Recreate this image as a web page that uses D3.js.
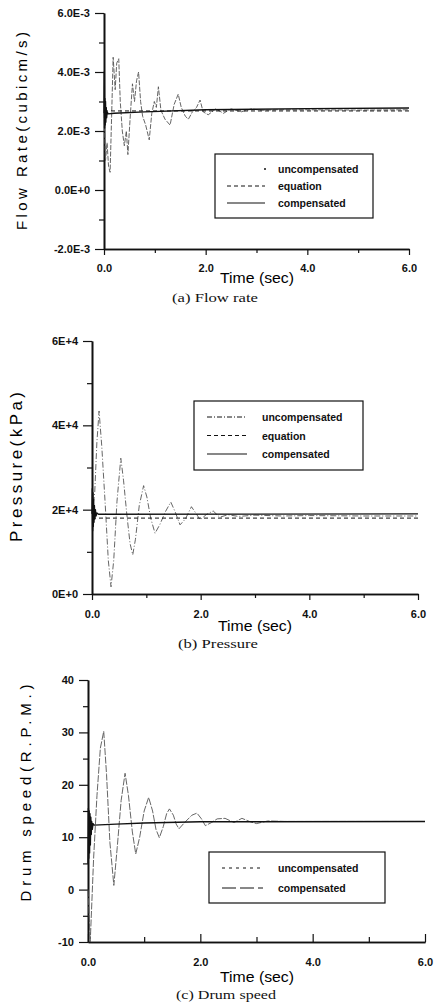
<!DOCTYPE html>
<html><head><meta charset="utf-8">
<script src="https://cdn.jsdelivr.net/npm/d3@7"></script>
<style>
html,body{margin:0;padding:0;background:#fff;}
svg{display:block;}
</style></head>
<body>
<svg id="c" width="440" height="1005"></svg>
<script>
// ---------- DATA ----------
// (a) Flow rate (cubic m/s)
const flowUncT = [0,0.03,0.06,0.09,0.12,0.15,0.18,0.22,0.25,0.29,0.32,0.36,0.40,0.44,0.47,0.52,0.56,0.60,0.64,0.68,0.72,0.76,0.82,0.89,0.94,0.99,1.03,1.07,1.12,1.20,1.30,1.38,1.46,1.52,1.60,1.66,1.74,1.82,1.89,1.95,2.05,2.20,2.35,2.50,2.70,2.90,3.10,3.40,4.00,5.00,6.00];
const flowUncV = [2.6e-3,1.0e-3,1.6e-3,0.8e-3,0.6e-3,2.5e-3,4.5e-3,3.4e-3,4.3e-3,4.45e-3,3.0e-3,2.0e-3,1.5e-3,2.0e-3,1.2e-3,2.6e-3,3.6e-3,3.0e-3,3.7e-3,4.0e-3,3.0e-3,2.5e-3,2.2e-3,1.7e-3,2.6e-3,3.0e-3,2.8e-3,3.5e-3,2.7e-3,2.4e-3,2.2e-3,2.9e-3,3.25e-3,2.8e-3,2.5e-3,2.4e-3,2.65e-3,2.8e-3,3.05e-3,2.65e-3,2.55e-3,2.75e-3,2.6e-3,2.75e-3,2.65e-3,2.75e-3,2.7e-3,2.72e-3,2.72e-3,2.71e-3,2.72e-3];
const flowCompT = [0,0.006,0.012,0.018,0.024,0.030,0.036,0.044,0.052,0.062,0.08,0.2,0.8,2.0,4.0,6.0];
const flowCompV = [2.6e-3,4.0e-3,2.1e-3,3.1e-3,2.2e-3,3.0e-3,2.3e-3,2.8e-3,2.45e-3,2.65e-3,2.58e-3,2.6e-3,2.65e-3,2.72e-3,2.76e-3,2.78e-3];
const flowEqT = [0,6];
const flowEqV = [2.68e-3,2.68e-3];
const flowTicks = [-2e-3,0,2e-3,4e-3,6e-3];
const flowTickLabels = ["-2.0E-3","0.0E+0","2.0E-3","4.0E-3","6.0E-3"];
const flowMinor = [-1e-3,1e-3,3e-3,5e-3];

// (b) Pressure (kPa)
const presUncT = [0,0.05,0.09,0.13,0.18,0.24,0.30,0.35,0.40,0.46,0.53,0.58,0.64,0.70,0.75,0.80,0.87,0.95,1.01,1.08,1.16,1.25,1.35,1.45,1.53,1.62,1.72,1.83,1.92,1.99,2.10,2.23,2.35,2.50,2.70,3.00,3.50,4.00,5.00,6.00];
const presUncV = [19000,24000,36000,43400,35000,22000,8000,1700,8000,22000,32200,27000,19000,12000,9300,13000,21000,25700,23000,18000,14400,16500,19500,21800,19500,16400,17800,20700,19000,17600,18800,19700,18200,18800,18400,18700,18500,18600,18500,18500];
const presCompT = [0,0.006,0.012,0.018,0.024,0.03,0.037,0.044,0.052,0.062,0.074,0.09,0.12,6];
const presCompV = [19000,25000,15000,24000,16000,22500,17000,21000,17800,20000,18500,19200,18900,19000];
const presEqT = [0,6];
const presEqV = [18000,18000];
const presTicks = [0,20000,40000,60000];
const presTickLabels = ["0E+0","2E+4","4E+4","6E+4"];
const presMinor = [10000,30000,50000];

// (c) Drum speed (R.P.M.)
const drumUncT = [0,0.04,0.10,0.16,0.22,0.28,0.33,0.39,0.46,0.52,0.59,0.66,0.72,0.79,0.85,0.92,1.00,1.08,1.15,1.21,1.27,1.34,1.40,1.45,1.52,1.57,1.62,1.72,1.85,1.94,2.02,2.09,2.20,2.30,2.44,2.60,2.74,2.90,3.00,3.20,3.50,6.00];
const drumUncV = [0,-10,6,18,27,30.2,22,9,0.8,8,17,22.2,18,11,6.8,10,15,17.6,15,11.5,9.9,12,14.5,15.4,14.2,12.5,11.6,12.8,14.2,14.6,13.5,12.2,12.8,13.5,13.6,12.8,13.6,12.9,12.6,13.1,13.0,13.0];
const drumCompT = [0,0.007,0.014,0.021,0.028,0.035,0.042,0.05,0.058,0.066,0.076,0.09,0.11,0.5,1.0,2.0,6.0];
const drumCompV = [5,15.5,6,15,7,14.5,8.5,13.8,10.5,13,11.5,12.6,12.3,12.5,12.7,12.95,13.0];
const drumTicks = [-10,0,10,20,30,40];
const drumTickLabels = ["-10","0","10","20","30","40"];
const drumMinor = [-5,5,15,25,35];

const timeTicks = [0,2,4,6];
const timeTickLabels = ["0.0","2.0","4.0","6.0"];
const timeMinor = [1,3,5];

// ---------- DRAW ----------
const SANS = "'Liberation Sans', Arial, sans-serif";
const SERIF = "'Liberation Serif', 'Times New Roman', serif";
const svg = d3.select("#c");
const zip = (t,v) => t.map((d,i)=>({t:d,v:v[i]}));

function panel(cfg){
  const x = d3.scaleLinear().domain([0,6]).range([cfg.x0,cfg.x1]);
  const y = d3.scaleLinear().domain(cfg.ydom).range([cfg.yb,cfg.yt]);
  const g = svg.append("g");
  const ax = d3.axisLeft(y).tickValues(cfg.yTicks).tickFormat((d,i)=>cfg.yLabels[i]).tickSize(9).tickPadding(5).tickSizeOuter(0);
  const ya = g.append("g").attr("transform",`translate(${cfg.x0},0)`).call(ax);
  const ym = g.append("g").attr("transform",`translate(${cfg.x0},0)`).call(d3.axisLeft(y).tickValues(cfg.yMinor).tickFormat("").tickSize(5).tickSizeOuter(0));
  const xsz = cfg.xIn ? -8 : 6;
  const xa = g.append("g").attr("transform",`translate(0,${cfg.yb})`).call(d3.axisBottom(x).tickValues(timeTicks).tickFormat((d,i)=>timeTickLabels[i]).tickSize(xsz).tickPadding(cfg.xPad).tickSizeOuter(0));
  const xm = g.append("g").attr("transform",`translate(0,${cfg.yb})`).call(d3.axisBottom(x).tickValues(timeMinor).tickFormat("").tickSize(cfg.xIn?-5:4).tickSizeOuter(0));
  [ya,ym,xa,xm].forEach(a=>{
    a.selectAll(".domain").attr("stroke","#111").attr("stroke-width",1.6);
    a.selectAll(".tick line").attr("stroke","#111").attr("stroke-width",1.2);
    a.selectAll("text").style("font-size","11px").style("font-weight","bold").style("font-family",SANS).attr("fill","#111");
  });
  const line = d3.line().x(d=>x(d.t)).y(d=>y(d.v));
  cfg.series.forEach(s=>{
    g.append("path").datum(zip(s.t,s.v)).attr("d",line).attr("fill","none")
      .attr("stroke",s.color).attr("stroke-width",s.w).attr("stroke-dasharray",s.dash||null)
      .attr("stroke-linejoin","round");
  });
  g.append("text").attr("transform",`translate(${cfg.ylx},${cfg.yly}) rotate(-90)`)
    .attr("text-anchor","middle").attr("dominant-baseline","central").attr("fill","#000")
    .style("font-family",SANS).style("font-size",cfg.ylfs+"px")
    .attr("textLength",cfg.ylLen).attr("lengthAdjust","spacing")
    .text(cfg.ylabel);
  g.append("text").attr("x",cfg.xlx).attr("y",cfg.xly).attr("text-anchor","middle").attr("fill","#000")
    .style("font-family",SANS).style("font-size","14px")
    .attr("textLength",74).attr("lengthAdjust","spacingAndGlyphs").text("Time (sec)");
  g.append("text").attr("x",cfg.capx).attr("y",cfg.capy).attr("text-anchor","middle").attr("fill","#111")
    .style("font-family",SERIF).style("font-size","13px")
    .attr("textLength",cfg.capLen).attr("lengthAdjust","spacingAndGlyphs").text(cfg.caption);
  const L = cfg.legend;
  g.append("rect").attr("x",L.x).attr("y",L.y).attr("width",L.w).attr("height",L.h)
    .attr("fill","#fff").attr("stroke","#111").attr("stroke-width",1.2);
  L.items.forEach((it,i)=>{
    const yy = L.y + L.first + i*L.step;
    if(it.dot){
      g.append("circle").attr("cx",L.sx1).attr("cy",yy).attr("r",1).attr("fill","#111");
    } else {
      g.append("line").attr("x1",L.sx0).attr("x2",L.sx1).attr("y1",yy).attr("y2",yy)
        .attr("stroke","#111").attr("stroke-width",it.w).attr("stroke-dasharray",it.dash||null);
    }
    g.append("text").attr("x",L.tx).attr("y",yy).attr("dominant-baseline","central").attr("fill","#111")
      .style("font-family",SANS).style("font-size","10.5px").style("font-weight","bold").text(it.name);
  });
}

panel({
  x0:104,x1:409,yt:13,yb:249,ydom:[-2e-3,6e-3],
  yTicks:flowTicks,yLabels:flowTickLabels,yMinor:flowMinor,xIn:false,xPad:9,
  series:[
    {t:flowUncT,v:flowUncV,color:"#555",w:0.9,dash:"5,1.5"},
    {t:flowEqT,v:flowEqV,color:"#111",w:1,dash:"4,3"},
    {t:flowCompT,v:flowCompV,color:"#111",w:1.4}
  ],
  ylabel:"Flow Rate(cubicm/s)",ylx:21,yly:131,ylfs:15,ylLen:198,
  xlx:257,xly:283,capx:215,capy:302,capLen:86,caption:"(a) Flow rate",
  legend:{x:215,y:154,w:158,h:64,first:15,step:17,sx0:227,sx1:265,tx:278,
    items:[{name:"uncompensated",dot:true},{name:"equation",w:1,dash:"4,3"},{name:"compensated",w:1.2}]}
});

panel({
  x0:92,x1:418,yt:341,yb:594,ydom:[0,60000],
  yTicks:presTicks,yLabels:presTickLabels,yMinor:presMinor,xIn:false,xPad:10,
  series:[
    {t:presUncT,v:presUncV,color:"#555",w:0.9,dash:"6,2,1,2"},
    {t:presEqT,v:presEqV,color:"#111",w:1,dash:"4,3"},
    {t:presCompT,v:presCompV,color:"#111",w:1.4}
  ],
  ylabel:"Pressure(kPa)",ylx:16,yly:467,ylfs:17,ylLen:150,
  xlx:255,xly:631,capx:218,capy:648,capLen:80,caption:"(b) Pressure",
  legend:{x:194,y:401,w:169,h:69,first:16,step:18.5,sx0:207,sx1:247,tx:262,
    items:[{name:"uncompensated",w:1,dash:"5,2,1,2"},{name:"equation",w:1,dash:"4,3"},{name:"compensated",w:1.2}]}
});

panel({
  x0:88,x1:425,yt:680,yb:942,ydom:[-10,40],
  yTicks:drumTicks,yLabels:drumTickLabels,yMinor:drumMinor,xIn:true,xPad:16,
  series:[
    {t:drumUncT,v:drumUncV,color:"#555",w:0.9,dash:"7,1.5"},
    {t:drumCompT,v:drumCompV,color:"#111",w:1.4}
  ],
  ylabel:"Drum speed(R.P.M.)",ylx:25,yly:793,ylfs:15,ylLen:217,
  xlx:257,xly:982,capx:226,capy:999,capLen:100,caption:"(c) Drum speed",
  legend:{x:209,y:852,w:176,h:51,first:16,step:20,sx0:222,sx1:263,tx:278,
    items:[{name:"uncompensated",w:1,dash:"3,4"},{name:"compensated",w:1,dash:"14,4"}]}
});
</script>
</body></html>
